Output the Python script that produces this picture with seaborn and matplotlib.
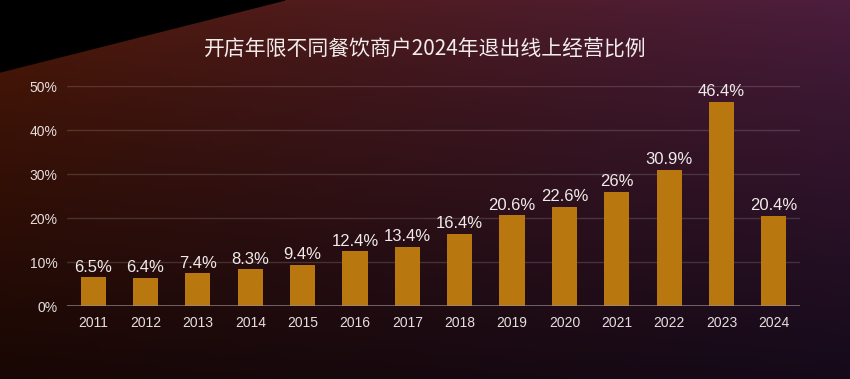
import numpy as np
import pandas as pd
import matplotlib
matplotlib.use("Agg")
import matplotlib.pyplot as plt
import seaborn as sns
from matplotlib.patches import Polygon

years = ["2011", "2012", "2013", "2014", "2015", "2016", "2017",
         "2018", "2019", "2020", "2021", "2022", "2023", "2024"]
values = [6.5, 6.4, 7.4, 8.3, 9.4, 12.4, 13.4, 16.4, 20.6, 22.6, 26, 30.9, 46.4, 20.4]
y_ticks = [0, 10, 20, 30, 40, 50]
title = "开店年限不同餐饮商户2024年退出线上经营比例"

sns.set_theme(style="dark")
plt.rcParams['font.family'] = ['Liberation Sans', 'Noto Sans CJK SC', 'DejaVu Sans']

W, H = 850, 379
fig = plt.figure(figsize=(W / 100, H / 100), dpi=100)

# background gradient
def hex2rgb(h):
    h = h.lstrip('#')
    return np.array([int(h[i:i + 2], 16) / 255 for i in (0, 2, 4)])

tl = hex2rgb("#521a08")
tr = hex2rgb("#4d1e3e")
bl = hex2rgb("#180704")
br = hex2rgb("#150a1a")
nx, ny = 200, 100
u = np.linspace(0, 1, nx)[None, :, None]
v = np.linspace(0, 1, ny)[:, None, None]
v2 = v ** 0.8
img = (1 - v2) * ((1 - u) * tl + u * tr) + v2 * ((1 - u) * bl + u * br)
bg = fig.add_axes([0, 0, 1, 1])
bg.imshow(img, aspect='auto', extent=[0, 1, 0, 1], interpolation='bilinear')
bg.add_patch(Polygon([(0, 1), (285 / W, 1), (0, 1 - 72 / H)], closed=True,
                     color='black', transform=bg.transAxes))
bg.set_xlim(0, 1)
bg.set_ylim(0, 1)
bg.axis('off')

ax = fig.add_axes([67 / W, 73 / H, 733 / W, 220 / H])
ax.set_facecolor('none')
df = pd.DataFrame({"year": years, "value": values})
sns.barplot(data=df, x="year", y="value", color="#b8770f", width=0.48,
            saturation=1, edgecolor='none', linewidth=0, ax=ax)
ax.set_xlim(-0.5, len(years) - 0.5)
ax.set_ylim(0, 50)
ax.set_yticks(y_ticks)
ax.set_yticklabels([f"{t}%" for t in y_ticks])
ax.set_xlabel("")
ax.set_ylabel("")
for s in ax.spines.values():
    s.set_visible(False)
ax.grid(False)
for t in y_ticks[1:]:
    ax.axhline(t, color='white', alpha=0.15, lw=1, zorder=0)
ax.axhline(0, color='#9a8a8a', alpha=0.8, lw=1.2, zorder=3)
ax.tick_params(axis='both', length=0, colors='#e6dede', labelsize=10)
ax.tick_params(axis='y', pad=7)
ax.tick_params(axis='x', pad=7)
ax.bar_label(ax.containers[0], labels=[f"{v:g}%" for v in values],
             padding=2, color='#f0eaea', fontsize=12)

fig.text(0.5, 1 - 50 / H, title, ha='center', va='center',
         color='#f2ecec', fontsize=15,
         family=['Noto Sans CJK SC', 'DejaVu Sans'])

fig.savefig("out.png", dpi=100)
